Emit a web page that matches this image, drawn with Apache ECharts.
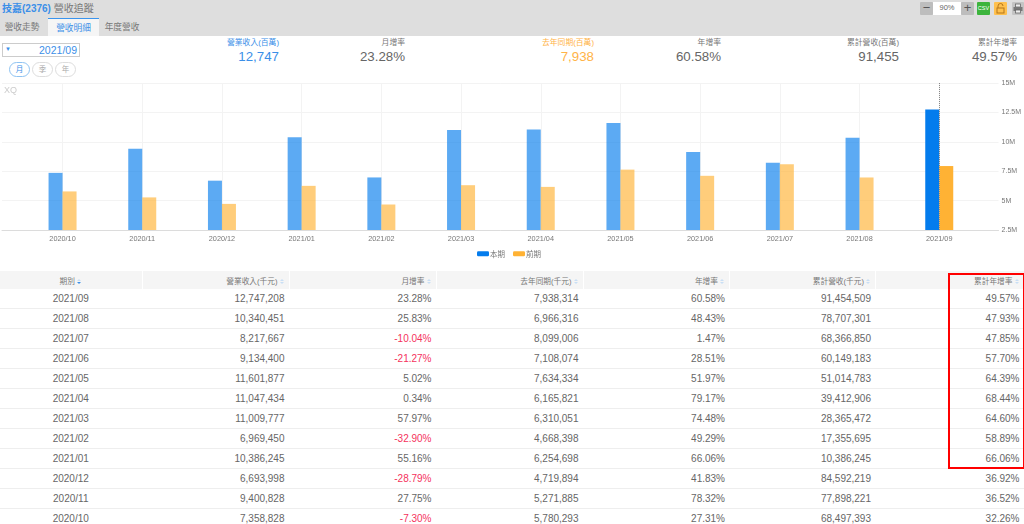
<!DOCTYPE html>
<html>
<head>
<meta charset="utf-8">
<script src="https://cdn.jsdelivr.net/npm/echarts@6/dist/echarts.min.js"></script>
<style>
  html,body{margin:0;padding:0;background:#fff;}
  body{position:relative;width:1024px;height:524px;overflow:hidden;color:#666;
    font-family:"Liberation Sans","Noto Sans CJK TC",sans-serif;}
  .abs{position:absolute;white-space:nowrap;}
  #head{left:0;top:0;width:1024px;height:36px;background:#dedede;}
  .tab{top:18px;height:18px;line-height:19px;font-size:8.7px;color:#777;text-align:center;}
  .stat-l{font-size:7.8px;top:38px;line-height:10px;text-align:right;color:#777;}
  .stat-v{font-size:13.3px;top:49px;line-height:16px;text-align:right;color:#666;}
  .blue{color:#3b8fe8 !important;} .orange{color:#ffb347 !important;}
  .pill{top:62px;height:13px;width:19px;line-height:13px;border:1px solid #ddd;border-radius:8px;
    font-size:7.5px;text-align:center;color:#aaa;}
  #main{position:absolute;left:0;top:78px;width:1024px;height:190px;}
  #tbl{position:absolute;left:0;top:271px;width:1024px;border-collapse:collapse;table-layout:fixed;}
  #tbl th{height:18px;padding:0 4px 0 0;background:#f5f5f5;font-weight:normal;font-size:7.7px;color:#777;
    text-align:right;border-right:1px solid #fff;}
  #tbl th:first-child{text-align:center;padding:0;}
  #tbl td{height:19px;padding:0 4px 0 0;font-size:10px;color:#666;text-align:right;
    border-bottom:1px solid #eee;border-right:1px solid #fff;}
  #tbl td:first-child{text-align:center;padding:0;}
  #tbl td.neg{color:#f5325c;}
  .sort{display:inline-block;width:5px;margin-left:2px;vertical-align:-1px;}
  .sort i{display:block;width:0;height:0;border-left:2px solid transparent;border-right:2px solid transparent;margin-bottom:1px;}
  .sort i.u{border-bottom:2px solid #c9dff5;} .sort i.d{border-top:2px solid #c9dff5;}
  .sort.on i.d{border-top-color:#3b8fe8;}
  #mark{left:948px;top:273px;width:73px;height:192px;border:2px solid #f00;}
  .btn{top:2px;width:13px;height:13px;border-radius:1px;text-align:center;line-height:12px;}
</style>
</head>
<body>
<div class="abs" id="head"></div>
<div class="abs" style="left:2px;top:2px;font-size:10px;line-height:13px;color:#777;"><b class="blue">技嘉(2376)</b> 營收追蹤</div>
<div class="abs tab" style="left:0;width:44px;">營收走勢</div>
<div class="abs tab blue" style="left:48px;width:51px;background:#f5f5f5;border-top:1px solid #3a94ee;height:17px;">營收明細</div>
<div class="abs tab" style="left:100px;width:44px;">年度營收</div>

<div class="abs" style="left:2px;top:43px;width:76px;height:12px;border:1px solid #ccc;"></div>
<div class="abs blue" style="left:5px;top:45px;font-size:6px;line-height:8px;">▼</div>
<div class="abs blue" style="left:30px;width:47px;top:43px;font-size:10.5px;line-height:14px;text-align:right;">2021/09</div>
<div class="abs pill blue" style="left:9px;border-color:#8fc3f2;">月</div>
<div class="abs pill" style="left:32px;">季</div>
<div class="abs pill" style="left:55px;">年</div>

<div class="abs stat-l blue" style="right:745px;">營業收入(百萬)</div>
<div class="abs stat-v blue" style="right:745px;">12,747</div>
<div class="abs stat-l" style="right:619px;">月增率</div>
<div class="abs stat-v" style="right:619px;">23.28%</div>
<div class="abs stat-l orange" style="right:430px;">去年同期(百萬)</div>
<div class="abs stat-v orange" style="right:430px;">7,938</div>
<div class="abs stat-l" style="right:303px;">年增率</div>
<div class="abs stat-v" style="right:303px;">60.58%</div>
<div class="abs stat-l" style="right:125px;">累計營收(百萬)</div>
<div class="abs stat-v" style="right:125px;">91,455</div>
<div class="abs stat-l" style="right:7px;">累計年增率</div>
<div class="abs stat-v" style="right:7px;">49.57%</div>

<!-- toolbar -->
<div class="abs btn" style="left:920px;background:#bdbdbd;font-size:13px;color:#555;">−</div>
<div class="abs" style="left:933px;top:2px;width:28px;height:13px;background:#fff;font-size:7.5px;line-height:11px;text-align:center;">90%</div>
<div class="abs btn" style="left:961px;background:#bdbdbd;font-size:13px;color:#555;">+</div>
<div class="abs btn" style="left:977px;background:#3cb43c;font-size:5.5px;color:#fff;">CSV</div>
<div class="abs btn" style="left:994px;background:#ffc04d;">
  <svg width="13" height="13" viewBox="0 0 13 13"><path d="M4 6V4a2.5 2.5 0 0 1 5 0" fill="none" stroke="#b5761a" stroke-width="1"/><rect x="3" y="6" width="7" height="5" fill="none" stroke="#b5761a"/></svg>
</div>
<div class="abs btn" style="left:1012px;width:12px;background:#c4c4c4;">
  <svg width="12" height="13" viewBox="0 0 12 13"><rect x="3.5" y="2" width="5" height="3" fill="#eee" stroke="#666" stroke-width=".8"/><rect x="1.5" y="5" width="9" height="4" fill="#777"/><rect x="3.5" y="8" width="5" height="3" fill="#eee" stroke="#666" stroke-width=".8"/></svg>
</div>

<div id="main"></div>
<table id="tbl"></table>
<div class="abs" id="mark"></div>

<script>
// newest month first, same order as the table
const periods = ['2021/09','2021/08','2021/07','2021/06','2021/05','2021/04','2021/03','2021/02','2021/01','2020/12','2020/11','2020/10']
const revenue = [12747208,10340451,8217667,9134400,11601877,11047434,11009777,6969450,10386245,6693998,9400828,7358828]
const momRate = [23.28,25.83,-10.04,-21.27,5.02,0.34,57.97,-32.90,55.16,-28.79,27.75,-7.30]
const lastYear = [7938314,6966316,8099006,7108074,7634334,6165821,6310051,4668398,6254698,4719894,5271885,5780293]
const yoyRate = [60.58,48.43,1.47,28.51,51.97,79.17,74.48,49.29,66.06,41.83,78.32,27.31]
const cumRevenue = [91454509,78707301,68366850,60149183,51014783,39412906,28365472,17355695,10386245,84592219,77898221,68497393]
const cumRate = [49.57,47.93,47.85,57.70,64.39,68.44,64.60,58.89,66.06,36.92,36.52,32.26]
const headers = ['期別','營業收入(千元)','月增率','去年同期(千元)','年增率','累計營收(千元)','累計年增率']
const colWidths = [142,147,147,147,146.5,146,148.5]

const num = v => v.toLocaleString('en-US')
const pct = v => v.toFixed(2) + '%'

// table
let html = '<colgroup>' + colWidths.map(w => `<col style="width:${w}px">`).join('') + '</colgroup><tr>'
headers.forEach((h, i) => {
  html += `<th>${h}<span class="sort${i === 0 ? ' on' : ''}"><i class="u"></i><i class="d"></i></span></th>`
})
html += '</tr>'
periods.forEach((p, i) => {
  html += `<tr><td>${p}</td><td>${num(revenue[i])}</td>` +
    `<td${momRate[i] < 0 ? ' class="neg"' : ''}>${pct(momRate[i])}</td>` +
    `<td>${num(lastYear[i])}</td><td>${pct(yoyRate[i])}</td>` +
    `<td>${num(cumRevenue[i])}</td><td>${pct(cumRate[i])}</td></tr>`
})
document.getElementById('tbl').innerHTML = html

// chart runs oldest to newest
const categories = periods.slice().reverse()
const current = revenue.slice().reverse()
const previous = lastYear.slice().reverse()
const axisMin = 2500000
const fade = arr => arr.map((v, i) => ({ value: v, itemStyle: { opacity: i === arr.length - 1 ? 1 : 0.65 } }))
const legendText = { color: '#777', fontSize: 7.5, padding: [0, 0, 0, -4], fontFamily: 'Noto Sans CJK TC' }

const chart = echarts.init(document.getElementById('main'))
chart.setOption({
  animation: false,
  title: { text: 'XQ', left: 4, top: 8, padding: 0, textStyle: { color: '#ccc', fontSize: 9, fontWeight: 'normal', fontFamily: 'Liberation Sans' } },
  legend: [
    { left: 477, top: 172, padding: 0, itemWidth: 12, itemHeight: 5, itemStyle: { opacity: 1 }, textStyle: legendText, data: ['本期'] },
    { left: 513, top: 172, padding: 0, itemWidth: 12, itemHeight: 5, itemStyle: { opacity: 1 }, textStyle: legendText, data: ['前期'] }
  ],
  // first grid carries the long gridlines and axis labels, second one the bars
  grid: [
    { left: 2, width: 997, top: 5, height: 147 },
    { left: 22.7, width: 956.4, top: 5, height: 147 }
  ],
  xAxis: [
    { gridIndex: 0, type: 'category', data: categories, axisTick: { show: false }, axisLabel: { show: false },
      axisLine: { lineStyle: { color: '#dcdcdc' } } },
    { gridIndex: 1, type: 'category', data: categories,
      axisLine: { show: false }, axisTick: { show: false },
      axisLabel: { interval: 0, margin: 5, color: '#777', fontSize: 7.3, fontFamily: 'Liberation Sans' },
      splitLine: { show: true, interval: 0, alignWithLabel: true, lineStyle: { color: '#f3f3f3' } },
      // crosshair resting on the selected month
      axisPointer: { show: true, status: 'show', value: categories.length - 1, type: 'line', triggerTooltip: false,
        label: { show: false }, lineStyle: { color: '#888', type: 'dotted', width: 1 } } }
  ],
  yAxis: [
    { gridIndex: 0, type: 'value', position: 'right', min: axisMin, max: 15000000, interval: 2500000,
      axisLine: { show: false }, axisTick: { show: false },
      axisLabel: { margin: 3, color: '#777', fontSize: 7, padding: [0, 0, 4, 0], fontFamily: 'Liberation Sans',
        formatter: v => v / 1000000 + 'M' },
      splitLine: { lineStyle: { color: '#f3f3f3' } } },
    { gridIndex: 1, type: 'value', min: axisMin, max: 15000000, interval: 2500000, show: false }
  ],
  series: [
    { name: '本期', type: 'bar', xAxisIndex: 1, yAxisIndex: 1, barWidth: 14, barGap: 0,
      itemStyle: { color: '#047ced' }, data: fade(current) },
    { name: '前期', type: 'bar', xAxisIndex: 1, yAxisIndex: 1, barWidth: 14,
      itemStyle: { color: '#ffb234' }, data: fade(previous) }
  ]
})
</script>
</body>
</html>
